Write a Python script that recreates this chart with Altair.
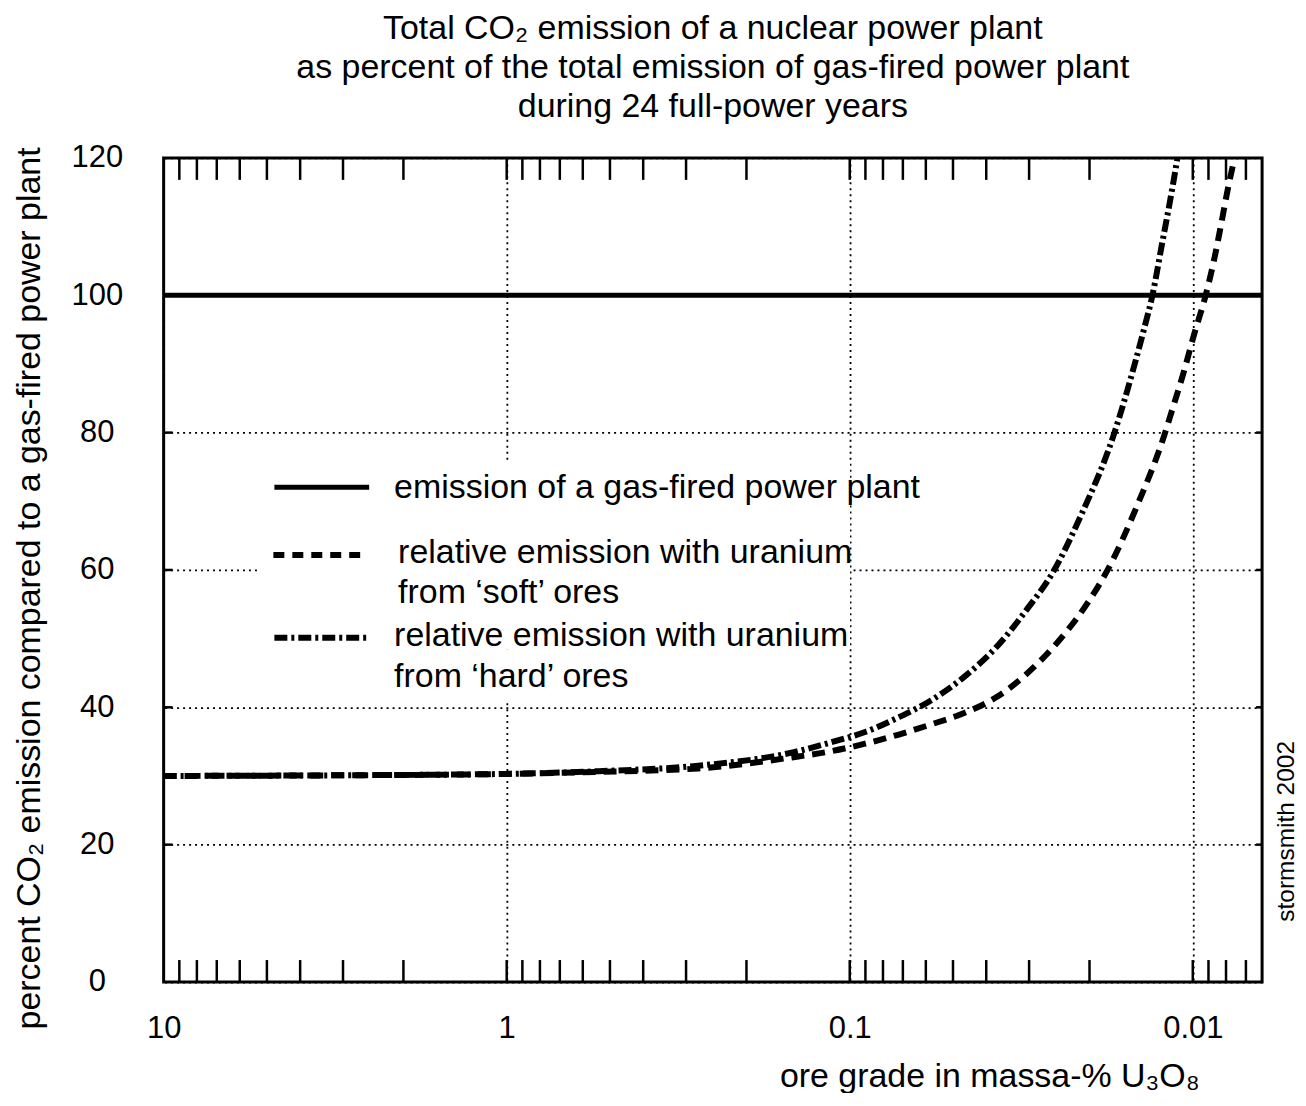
import altair as alt
import pandas as pd

# ---------------- data ----------------
hard_grade = [10, 3, 1, 0.539, 0.276, 0.1477, 0.1133, 0.0902, 0.0723, 0.058, 0.0462,
              0.037, 0.0303, 0.02561, 0.0212, 0.01702, 0.0158, 0.0148, 0.01385,
              0.01311, 0.01226, 0.01172, 0.01109, 0.0108]
hard_pct = [30.0, 30.1, 30.3, 30.7, 31.5, 33.4, 34.9, 36.4, 38.5, 41.0, 44.5,
            49.0, 54.4, 59.6, 67.9, 79.6, 84.8, 89.8, 95.2,
            100.0, 107.8, 113.0, 120.0, 124.0]

soft_grade = [10, 3, 1, 0.539, 0.276, 0.1474, 0.1133, 0.0902, 0.0723, 0.058, 0.0462,
              0.037, 0.0303, 0.02427, 0.02025, 0.01771, 0.01449, 0.01209, 0.0116,
              0.0106, 0.00991, 0.00917, 0.00858, 0.00835, 0.00779, 0.00742]
soft_pct = [30.0, 30.1, 30.3, 30.6, 31.1, 32.7, 33.6, 34.7, 36.0, 37.5, 39.2,
            41.6, 45.0, 50.0, 55.2, 60.0, 69.5, 79.7, 82.6,
            89.0, 94.3, 100.0, 106.2, 109.2, 117.0, 121.5]

gas_grade = [10, 0.00628]
gas_pct = [100, 100]

x_label_values = [10, 1, 0.1, 0.01]
x_minor_ticks = [9, 8, 7, 6, 5, 4, 3, 2, 1,
                 0.9, 0.8, 0.7, 0.6, 0.5, 0.4, 0.3, 0.2, 0.1,
                 0.09, 0.08, 0.07, 0.06, 0.05, 0.04, 0.03, 0.02, 0.01,
                 0.009, 0.008, 0.007]
y_label_values = [0, 20, 40, 60, 80, 100, 120]
y_inner_ticks = [20, 40, 60, 80, 100]

title_lines = ["Total CO\u2082 emission of a nuclear power plant",
               "as percent of the total emission of gas-fired power plant",
               "during 24 full-power years"]
x_title = "ore grade in massa-% U\u2083O\u2088"
y_title = "percent CO\u2082 emission compared to a gas-fired power plant"
legend_gas = "emission of a gas-fired power plant"
legend_soft = ["relative emission with uranium", "from \u2018soft\u2019 ores"]
legend_hard = ["relative emission with uranium", "from \u2018hard\u2019 ores"]
credit = "stormsmith 2002"

# ---------------- layout / style ----------------
FONT = "Liberation Sans"
W, H = 1101, 826
TXT = 34
TICKTXT = 31
DASH_SOFT = [13, 8]
DASH_HARD = [13, 4, 3, 4]

xscale = alt.Scale(type="log", domain=[0.00628, 10], reverse=True)
yscale = alt.Scale(domain=[0, 120], nice=False, zero=False)

x_axis = alt.Axis(
    values=x_label_values, format="~g", labelFlush=False, labelOverlap=False,
    ticks=False, tickSize=0, domain=False,
    grid=True, gridColor="black", gridDash=[2, 4], gridWidth=1.8,
    labelFontSize=TICKTXT, labelColor="black", labelFont=FONT,
    labelPadding=47, labelBaseline="middle",
    title=x_title, titleFontSize=TXT, titleFontWeight="normal", titleFont=FONT,
    titleColor="black", titleAlign="right", titleBaseline="middle",
    titleX=1038, titleY=95, titleAngle=0,
)
y_axis = alt.Axis(
    values=y_label_values, labelOverlap=False, labelFlush=False,
    ticks=False, tickSize=0, domain=False,
    grid=True, gridColor="black", gridDash=[2, 4], gridWidth=1.8,
    labelFontSize=TICKTXT, labelColor="black", labelFont=FONT,
    labelPadding=67, labelAlign="center", labelBaseline="middle",
    title=y_title, titleFontSize=TXT, titleFontWeight="normal", titleFont=FONT,
    titleColor="black", titleAlign="center", titleBaseline="middle",
    titleAngle=270, titleX=-134, titleY=431,
)

hard_df = pd.DataFrame({"grade": hard_grade, "pct": hard_pct})
soft_df = pd.DataFrame({"grade": soft_grade, "pct": soft_pct})
gas_df = pd.DataFrame({"grade": gas_grade, "pct": gas_pct})
minor_df = pd.DataFrame({"grade": x_minor_ticks})
ytick_df = pd.DataFrame({"pct": y_inner_ticks})
one = pd.DataFrame({"k": [0]})


def X(field="grade"):
    return alt.X(f"{field}:Q", scale=xscale, axis=x_axis)


def Y(field="pct"):
    return alt.Y(f"{field}:Q", scale=yscale, axis=y_axis)


# legend white background (hides grid lines behind the legend text)
bg1 = alt.Chart(one).mark_rect(color="white").encode(
    x=alt.value(97), x2=alt.value(688), y=alt.value(303), y2=alt.value(493))
bg2 = alt.Chart(one).mark_rect(color="white").encode(
    x=alt.value(97), x2=alt.value(684), y=alt.value(493), y2=alt.value(545))

gas_line = alt.Chart(gas_df).mark_line(color="black", strokeWidth=5, clip=True).encode(
    x=X(), y=Y())
soft_line = alt.Chart(soft_df).mark_line(
    color="black", strokeWidth=6, strokeDash=DASH_SOFT, strokeCap="butt",
    interpolate="monotone", clip=True).encode(x=X(), y=Y())
hard_line = alt.Chart(hard_df).mark_line(
    color="black", strokeWidth=6, strokeDash=DASH_HARD, strokeCap="butt",
    interpolate="monotone", clip=True).encode(x=X(), y=Y())

top_ticks = alt.Chart(minor_df).mark_rule(color="black", strokeWidth=2.5).encode(
    x=X(), y=alt.value(0), y2=alt.value(22))
bottom_ticks = alt.Chart(minor_df).mark_rule(color="black", strokeWidth=2.5).encode(
    x=X(), y=alt.value(H - 22), y2=alt.value(H))
left_ticks = alt.Chart(ytick_df).mark_rule(color="black", strokeWidth=2.5).encode(
    y=Y(), x=alt.value(0), x2=alt.value(9))
right_ticks = alt.Chart(ytick_df).mark_rule(color="black", strokeWidth=2.5).encode(
    y=Y(), x=alt.value(W - 6), x2=alt.value(W))

# legend samples
leg_gas = alt.Chart(one).mark_rule(color="black", strokeWidth=5).encode(
    x=alt.value(111), x2=alt.value(206), y=alt.value(330))
leg_soft = alt.Chart(one).mark_rule(color="black", strokeWidth=6, strokeDash=[11, 8],
                                    strokeCap="butt").encode(
    x=alt.value(110), x2=alt.value(199), y=alt.value(398))
leg_hard = alt.Chart(one).mark_rule(color="black", strokeWidth=6, strokeDash=DASH_HARD,
                                    strokeCap="butt").encode(
    x=alt.value(111), x2=alt.value(206), y=alt.value(481))


def label(text, x, y, size=TXT, **kw):
    return alt.Chart(one).mark_text(
        text=text, font=FONT, fontSize=size, color="black",
        align=kw.pop("align", "left"), baseline="middle", **kw
    ).encode(x=alt.value(x), y=alt.value(y))


t1 = label(legend_gas, 231, 331)
t2 = label(legend_soft[0], 235, 396)
t3 = label(legend_soft[1], 235, 436)
t4 = label(legend_hard[0], 231, 479)
t5 = label(legend_hard[1], 231, 520)
t_credit = label(credit, 1126, 675, size=24.5, align="center", angle=270)

chart = alt.layer(
    bg1, bg2, gas_line, soft_line, hard_line,
    top_ticks, bottom_ticks, left_ticks, right_ticks,
    leg_gas, leg_soft, leg_hard, t1, t2, t3, t4, t5, t_credit,
).properties(
    width=W, height=H,
    title=alt.TitleParams(text=title_lines, fontSize=TXT, fontWeight="normal",
                          font=FONT, color="black", lineHeight=39,
                          anchor="middle", frame="group", offset=18),
    autosize=alt.AutoSizeParams(type="none"),
    padding={"left": 156, "top": 149, "right": 36, "bottom": 110},
).configure(font=FONT).configure_view(stroke="black", strokeWidth=3)

chart.save("out.html", embed_options={"renderer": "svg", "actions": False})
